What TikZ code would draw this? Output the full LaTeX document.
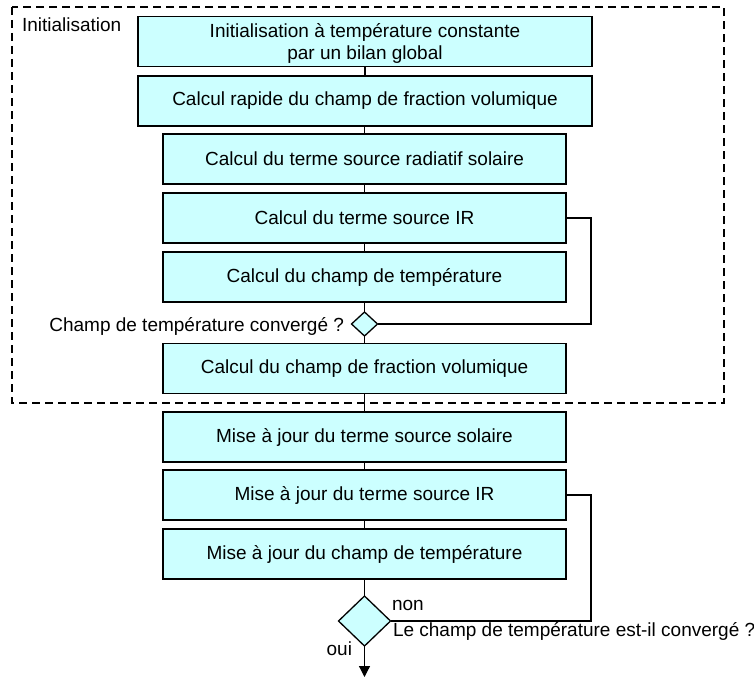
\documentclass[tikz,border=0pt]{standalone}
\usepackage{fontspec}
\setmainfont{Liberation Sans}
\usetikzlibrary{shapes.geometric,arrows.meta}
\definecolor{boxfill}{HTML}{CCFFFF}
\begin{document}
\begin{tikzpicture}[x=1pt,y=-1pt,
  every node/.style={font=\fontsize{19}{22}\selectfont, inner sep=0pt, outer sep=0pt},
  widebox/.style={draw, fill=boxfill, line width=1.6pt, minimum width=454pt, minimum height=50pt, align=center},
  stepbox/.style={draw, fill=boxfill, line width=1.6pt, minimum width=403pt, minimum height=50pt, align=center},
  test/.style={draw, fill=boxfill, line width=1.3pt, shape=diamond},
  conn/.style={line width=1.2pt},
  loopline/.style={line width=1.6pt},
  frame/.style={line width=1.5pt, dash pattern=on 8pt off 5pt}
]
\useasboundingbox (0,0) rectangle (754,677);

% dashed frame
\draw[frame] (12,7) rectangle (724,403);
\node[anchor=west] (initlbl) at (22,25) {Initialisation};

\node[widebox] (b1) at (365,41.5) {};
\node[align=center] (b1text) at (365,43) {Initialisation à température constante\\par un bilan global};
\node[widebox] (b2) at (365,101) {Calcul rapide du champ de fraction volumique};
\node[stepbox] (b3) at (364.5,159) {Calcul du terme source radiatif solaire};
\node[stepbox] (b4) at (364.5,218) {Calcul du terme source IR};
\node[stepbox] (b5) at (364.5,277) {Calcul du champ de température};
\node[test, minimum width=26pt, minimum height=24pt] (d1) at (364.5,324) {};
\node[stepbox] (b6) at (364.5,368.5) {Calcul du champ de fraction volumique};
\node[stepbox] (b7) at (364.5,437) {Mise à jour du terme source solaire};
\node[stepbox] (b8) at (364.5,495) {Mise à jour du terme source IR};
\node[stepbox] (b9) at (364.5,554) {Mise à jour du champ de température};
\node[test, minimum width=52pt, minimum height=50pt] (d2) at (364.5,621) {};

% vertical connectors
\draw[conn] (b1.south) -- (b2.north);
\draw[conn] (b2.south -| b3.north) -- (b3.north);
\draw[conn] (b3.south) -- (b4.north);
\draw[conn] (b4.south) -- (b5.north);
\draw[conn] (b5.south) -- (d1.north);
\draw[conn] (d1.south) -- (b6.north);
\draw[conn] (b6.south) -- (b7.north);
\draw[conn] (b7.south) -- (b8.north);
\draw[conn] (b8.south) -- (b9.north);
\draw[conn] (b9.south) -- (d2.north);
\coordinate (arrowend) at (364.5,677);
\draw[conn, -{Triangle[width=11pt,length=11pt]}] (d2.south) -- (arrowend);

% loops
\draw[loopline] (b4.east) -- (591,218) |- (d1.east);
\draw[loopline] (b8.east) -- (591,495) |- (d2.east);

% labels
\node[anchor=east] (q1) at (344,326) {Champ de température convergé ?};
\node[anchor=west] (non) at (392,605) {non};
\node[anchor=west] (q2) at (393,631) {Le champ de température est-il convergé ?};
\node[anchor=east] (oui) at (352,649) {oui};
\end{tikzpicture}
\end{document}
